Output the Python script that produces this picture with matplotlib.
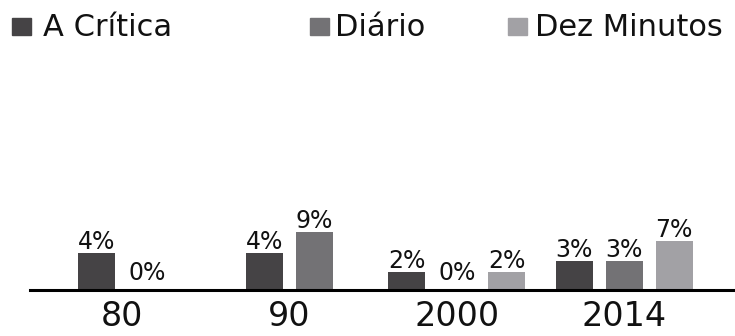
import matplotlib
matplotlib.use('Agg')
import matplotlib.pyplot as plt
from matplotlib.patches import Rectangle
import numpy as np

# categories (decades / year)
periods = ['80', '90', '2000', '2014']

# share shown above each bar (None = no bar in that period)
a_critica = [4, 4, 2, 3]
diario = [0, 9, 0, 3]
dez_minutos = [None, None, 2, 7]

# bar heights as drawn in the original (not proportional to the labels)
a_critica_h = [37, 37, 18, 29]
diario_h = [0, 58, 0, 29]
dez_minutos_h = [None, None, 18, 49]

series = [
    ('A Crítica', a_critica, a_critica_h, '#454345'),
    ('Diário', diario, diario_h, '#737275'),
    ('Dez Minutos', dez_minutos, dez_minutos_h, '#a2a1a5'),
]

W, H = 735, 336
fig = plt.figure(figsize=(W / 100, H / 100), dpi=100)
ax = fig.add_axes([30 / W, 46 / H, 705 / W, 230 / H])

bar_w = 0.221
step = 0.299

for i, period in enumerate(periods):
    present = [s for s in series if s[1][i] is not None]
    n = len(present)
    for k, (name, vals, hts, color) in enumerate(present):
        x = i + (k - (n - 1) / 2) * step
        h = hts[i]
        ax.bar(x, h, width=bar_w, color=color, zorder=2)
        pad = 3 if h > 0 else 7.5
        ax.annotate(f'{vals[i]}%', (x, h), xytext=(0, pad), textcoords='offset points',
                    ha='center', va='baseline', fontsize=17, color='#111111')

ax.set_xlim(-0.549, 3.662)
ax.set_ylim(0, 230)
ax.set_xticks(range(len(periods)))
ax.set_xticklabels(periods, fontsize=24)
ax.tick_params(axis='x', length=0, pad=7, colors='#111111')
ax.set_yticks([])
for side in ['top', 'right', 'left']:
    ax.spines[side].set_visible(False)
ax.spines['bottom'].set_linewidth(2.2)
ax.spines['bottom'].set_color('black')
ax.set_facecolor('none')

# legend drawn by hand along the top
legend_pos = [(12, 43), (310, 335), (508, 535)]
for (name, vals, hts, color), (sx, tx) in zip(series, legend_pos):
    fig.patches.append(Rectangle((sx / W, 1 - 35 / H), 19 / W, 17 / H,
                                 transform=fig.transFigure, color=color))
    fig.text(tx / W, 1 - 36 / H, name, fontsize=22,
             va='baseline', ha='left', color='#111111')

fig.savefig('out.png', dpi=100, facecolor='white')
